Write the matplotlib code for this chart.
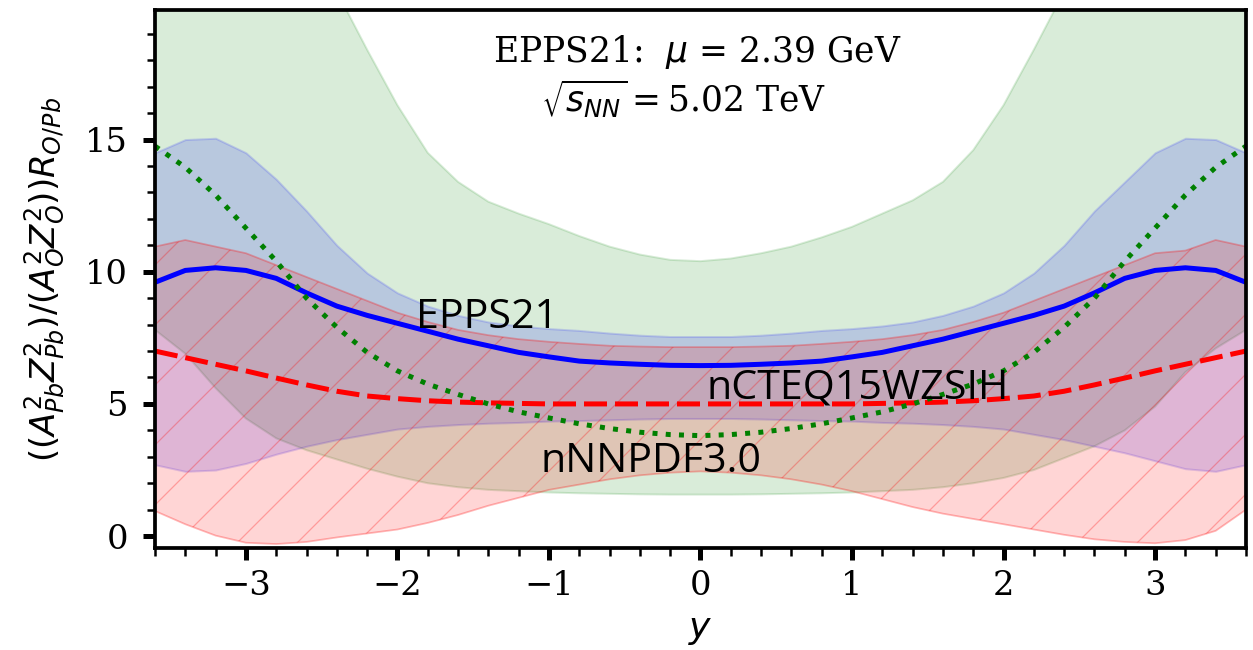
import numpy as np
import matplotlib
matplotlib.use("Agg")
import matplotlib.pyplot as plt
from matplotlib.ticker import MultipleLocator

plt.rcParams["font.family"] = "serif"
plt.rcParams["font.serif"] = ["DejaVu Serif"]
plt.rcParams["mathtext.fontset"] = "dejavusans"
plt.rcParams["hatch.linewidth"] = 0.5

# rapidity grid
y_rap = [-3.6, -3.4, -3.2, -3.0, -2.8, -2.6, -2.4, -2.2, -2.0, -1.8, -1.6, -1.4, -1.2,
         -1.0, -0.8, -0.6, -0.4, -0.2, 0.0, 0.2, 0.4, 0.6, 0.8, 1.0, 1.2, 1.4, 1.6,
         1.8, 2.0, 2.2, 2.4, 2.6, 2.8, 3.0, 3.2, 3.4, 3.6]

# EPPS21
epps_c = [9.6, 10.05, 10.15, 10.05, 9.75, 9.2, 8.7, 8.35, 8.05, 7.75, 7.45, 7.2, 6.95,
          6.78, 6.62, 6.55, 6.5, 6.46, 6.45, 6.46, 6.5, 6.55, 6.62, 6.78, 6.95, 7.2, 7.45,
          7.75, 8.05, 8.35, 8.7, 9.2, 9.75, 10.05, 10.15, 10.05, 9.6]
epps_hi = [14.5, 15.0, 15.05, 14.5, 13.5, 12.3, 11.0, 9.95, 9.2, 8.7, 8.35, 8.1, 7.95,
           7.85, 7.78, 7.68, 7.6, 7.55, 7.55, 7.55, 7.6, 7.68, 7.78, 7.85, 7.95, 8.1, 8.35,
           8.7, 9.2, 9.95, 11.0, 12.3, 13.4, 14.5, 15.05, 15.0, 14.5]
epps_lo = [2.7, 2.45, 2.5, 2.75, 3.1, 3.4, 3.65, 3.85, 4.05, 4.15, 4.22, 4.27, 4.3,
           4.35, 4.37, 4.4, 4.43, 4.45, 4.45, 4.45, 4.43, 4.4, 4.37, 4.35, 4.3, 4.27, 4.22,
           4.15, 4.05, 3.85, 3.65, 3.4, 3.15, 2.85, 2.55, 2.45, 2.7]

# nCTEQ15WZSIH
ncteq_c = [7.0, 6.75, 6.5, 6.25, 5.98, 5.72, 5.48, 5.3, 5.2, 5.12, 5.07, 5.04, 5.02,
           5.0, 5.0, 5.0, 5.0, 5.0, 5.0, 5.0, 5.0, 5.0, 5.0, 5.0, 5.02, 5.04, 5.07,
           5.12, 5.2, 5.3, 5.48, 5.72, 5.98, 6.25, 6.5, 6.75, 7.0]
ncteq_hi = [10.95, 11.2, 10.95, 10.7, 10.25, 9.8, 9.35, 8.9, 8.45, 8.1, 7.8, 7.6, 7.45,
            7.35, 7.27, 7.2, 7.17, 7.15, 7.15, 7.15, 7.17, 7.2, 7.27, 7.35, 7.45, 7.6, 7.8,
            8.1, 8.45, 8.9, 9.35, 9.8, 10.25, 10.7, 10.8, 11.2, 10.95]
ncteq_lo = [0.95, 0.45, 0.02, -0.25, -0.3, -0.22, -0.05, 0.1, 0.25, 0.5, 0.8, 1.15, 1.45,
            1.75, 1.95, 2.15, 2.3, 2.4, 2.45, 2.4, 2.3, 2.15, 1.95, 1.7, 1.4, 1.1, 0.85,
            0.65, 0.45, 0.25, 0.05, -0.12, -0.22, -0.27, -0.15, 0.2, 1.0]

# nNNPDF3.0
nnpdf_c = [14.75, 13.95, 12.9, 11.65, 10.4, 9.0, 7.9, 6.95, 6.25, 5.75, 5.36, 5.0, 4.7,
           4.47, 4.25, 4.07, 3.93, 3.84, 3.8, 3.84, 3.93, 4.07, 4.25, 4.47, 4.7, 5.0, 5.36,
           5.75, 6.25, 6.95, 7.9, 9.0, 10.4, 11.65, 12.9, 13.95, 14.75]
nnpdf_hi = [30.0, 28.5, 27.0, 25.5, 24.0, 22.3, 20.6, 18.4, 16.3, 14.5, 13.4, 12.65, 12.2,
            11.8, 11.35, 10.95, 10.65, 10.45, 10.4, 10.5, 10.7, 10.95, 11.3, 11.7, 12.2, 12.7, 13.4,
            14.6, 16.3, 18.4, 20.6, 22.3, 24.0, 25.5, 27.0, 28.5, 30.0]
nnpdf_lo = [7.8, 6.9, 5.6, 4.45, 3.7, 3.25, 2.9, 2.55, 2.25, 2.0, 1.85, 1.75, 1.7,
            1.65, 1.62, 1.6, 1.58, 1.57, 1.57, 1.57, 1.58, 1.6, 1.62, 1.65, 1.7, 1.75, 1.85,
            2.0, 2.2, 2.5, 2.95, 3.4, 4.0, 4.9, 6.2, 7.1, 7.8]

fig = plt.figure(figsize=(1253 / 180, 650 / 180), dpi=180)
ax = fig.add_axes([0.1237, 0.1569, 0.8707, 0.8277])

# uncertainty bands
ax.fill_between(y_rap, nnpdf_lo, nnpdf_hi, color="green", alpha=0.15, lw=0.8)
ax.fill_between(y_rap, epps_lo, epps_hi, color="blue", alpha=0.15, lw=0.8)
ax.fill_between(y_rap, ncteq_lo, ncteq_hi, facecolor=(1, 0, 0, 0.165),
                edgecolor=(1, 0, 0, 0.28), hatch="/", lw=0.7)

# central values
ax.plot(y_rap, epps_c, color="blue", lw=2.0)
ax.plot(y_rap, ncteq_c, color="red", lw=2.0, ls="--", dashes=(4.6, 1.6))
ax.plot(y_rap, nnpdf_c, color="green", lw=2.0, ls=":")

ax.set_xlim(-3.6, 3.6)
ax.set_ylim(-0.45, 19.9)
ax.xaxis.set_major_locator(MultipleLocator(1))
ax.xaxis.set_minor_locator(MultipleLocator(0.2))
ax.yaxis.set_major_locator(MultipleLocator(5))
ax.yaxis.set_minor_locator(MultipleLocator(1))
ax.tick_params(which="major", direction="out", length=4.8, width=2.0, labelsize=13.5, pad=4)
ax.tick_params(axis="y", which="major", pad=6)
ax.tick_params(which="minor", direction="out", length=3.2, width=1.0)
for s in ax.spines.values():
    s.set_linewidth(1.5)

ax.set_xlabel(r"$y$", fontsize=14.5)
ax.set_ylabel(r"$((A_{Pb}^2Z_{Pb}^2)/(A_O^2Z_O^2))R_{O/Pb}$", fontsize=13.6)
ax.xaxis.set_label_coords(0.5, -0.12)
ax.yaxis.set_label_coords(-0.08, 0.5)

ax.text(-0.02, 17.93, r"EPPS21:  $\mu$ = 2.39 GeV", ha="center", va="baseline", fontsize=13.8)
ax.text(-0.11, 16.04, r"$\sqrt{s_{NN}}=$5.02 TeV", ha="center", va="baseline", fontsize=13.8)

# curve labels
lab = dict(fontsize=16.5, family="Open Sans", va="baseline", ha="left", color="black")
ax.text(-1.88, 7.87, "EPPS21", **lab)
ax.text(0.04, 5.22, "nCTEQ15WZSIH", **lab)
ax.text(-1.055, 2.42, "nNNPDF3.0", **lab)

fig.savefig("out.png", dpi=180)
